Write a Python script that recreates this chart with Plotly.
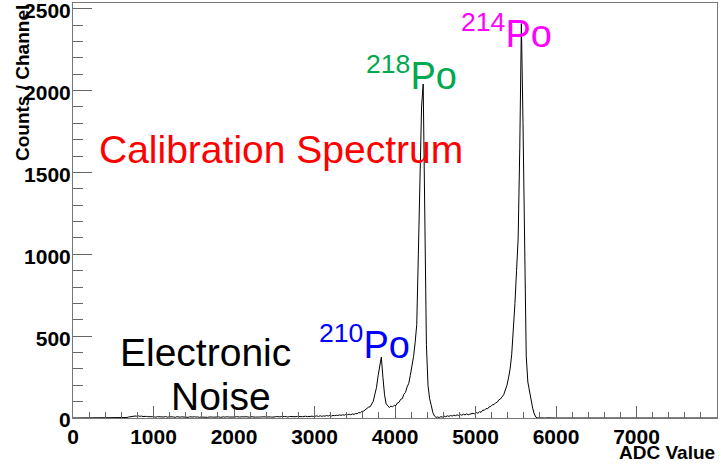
import plotly.graph_objects as go

# Histogram binning of the ADC spectrum (20 ADC channels per bin, starting at 600)
BIN_START = 600
BIN_WIDTH = 20
X_MAX = 8000
Y_MAX = 2535

# Counts per bin, rows of 10 bins (200 ADC each), starting at 600
counts = [
    0, 0, 1, 3, 6, 8, 10, 9, 12, 11,                 # 600
    13, 10, 12, 9, 11, 10, 8, 9, 7, 8,               # 800
    7, 5, 8, 7, 4, 7, 6, 9, 5, 7,                    # 1000
    5, 7, 6, 4, 8, 6, 5, 7, 6, 8,                    # 1200
    6, 4, 7, 5, 6, 8, 5, 7, 4, 6,                    # 1400
    5, 7, 6, 4, 6, 8, 6, 5, 7, 5,                    # 1600
    7, 4, 6, 7, 5, 8, 6, 5, 4, 6,                    # 1800
    6, 8, 5, 6, 7, 5, 7, 8, 6, 5,                    # 2000
    8, 6, 7, 5, 6, 8, 6, 7, 5, 7,                    # 2200
    6, 8, 7, 5, 8, 7, 9, 6, 7, 9,                    # 2400
    7, 9, 8, 6, 9, 8, 10, 7, 8, 10,                  # 2600
    8, 10, 8, 9, 11, 8, 10, 9, 11, 9,                # 2800
    10, 13, 9, 14, 10, 13, 11, 15, 12, 16,           # 3000
    12, 16, 14, 17, 15, 19, 16, 20, 17, 22,          # 3200
    20, 23, 20, 25, 22, 27, 26, 33, 32, 41,          # 3400
    42, 50, 53, 66, 68, 88, 102, 145, 186, 258,      # 3600
    318, 372, 248, 142, 86, 75, 64, 73, 68, 78,      # 3800
    76, 92, 95, 114, 118, 145, 156, 190, 210, 260,   # 4000
    310, 375, 460, 570, 1000, 1550, 1900, 2040, 1250, 450,  # 4200
    200, 118, 78, 33, 12, 4, 6, 3, 8, 6,             # 4400
    11, 8, 13, 10, 15, 12, 17, 14, 19, 16,           # 4600
    21, 17, 23, 19, 25, 20, 23, 24, 29, 25,          # 4800
    33, 29, 38, 35, 48, 47, 58, 56, 68, 70,          # 5000
    81, 82, 93, 96, 111, 116, 133, 142, 171, 198,    # 5200
    245, 300, 390, 520, 700, 900, 1100, 1650, 2409, 1800,  # 5400
    900, 380, 220, 160, 105, 60, 25, 5, 1, 0,        # 5600
    0, 1, 0, 0, 1, 0, 0, 0, 0, 0,                    # 5800
]

adc = [BIN_START + BIN_WIDTH * (i + 0.5) for i in range(len(counts))]
# empty channels on both sides of the filled range
adc = [0] + adc + [X_MAX]
counts = [0] + counts + [0]

x_ticks = [0, 1000, 2000, 3000, 4000, 5000, 6000, 7000]
y_ticks = [0, 500, 1000, 1500, 2000, 2500]

FONT = "Liberation Sans"

# plot-area geometry (pixels)
W, H = 721, 465
L, R, T, B = 73, 4, 3, 47
PW, PH = W - L - R, H - T - B


def px_x(px):
    return (px - L) / PW


def px_y(py):
    return (H - B - py) / PH


fig = go.Figure()
fig.add_trace(go.Scatter(
    x=adc, y=counts, mode="lines",
    line=dict(color="black", width=1),
    hoverinfo="x+y", showlegend=False,
))

axis_common = dict(
    showline=True, linecolor="#777777", linewidth=1, mirror=True,
    showgrid=False, zeroline=False, automargin=False,
    ticks="inside", tickcolor="#666666", tickwidth=1,
    tickfont=dict(family=FONT, size=21, color="black", weight="bold"),
    ticklabeloverflow="allow",
)

fig.update_xaxes(
    range=[0, X_MAX], tickvals=x_ticks, ticktext=[str(v) for v in x_ticks],
    ticklen=12,
    minor=dict(dtick=200, ticklen=6, ticks="inside", tickcolor="#666666"),
    **axis_common,
)
fig.update_yaxes(
    range=[0, Y_MAX], tickvals=y_ticks, ticktext=[str(v) for v in y_ticks],
    ticklen=19, ticklabelstandoff=-3, ticklabelshift=2,
    minor=dict(dtick=100, ticklen=10, ticks="inside", tickcolor="#666666"),
    **axis_common,
)

annotations = [
    # axis titles
    dict(text="<b>Counts / Channel</b>", x=px_x(22), y=1.0, xanchor="center",
         yanchor="top", textangle=-90, font=dict(size=19)),
    dict(text="<b>ADC Value</b>", x=1.0, y=px_y(465), xanchor="right",
         yanchor="bottom", font=dict(size=19)),
    # labels
    dict(text="Calibration Spectrum", x=px_x(281), y=px_y(149),
         xanchor="center", yanchor="middle", font=dict(size=39, color="#ff0000")),
    dict(text="<sup>214</sup>Po", x=px_x(506), y=px_y(31),
         xanchor="center", yanchor="middle", font=dict(size=38, color="#ff00ff")),
    dict(text="<sup>218</sup>Po", x=px_x(411), y=px_y(73),
         xanchor="center", yanchor="middle", font=dict(size=38, color="#00a84f")),
    dict(text="<sup>210</sup>Po", x=px_x(364), y=px_y(342),
         xanchor="center", yanchor="middle", font=dict(size=38, color="#0000ff")),
    dict(text="Electronic", x=px_x(205), y=px_y(352),
         xanchor="center", yanchor="middle", font=dict(size=39, color="black")),
    dict(text="Noise", x=px_x(221), y=px_y(396),
         xanchor="center", yanchor="middle", font=dict(size=39, color="black")),
]
for a in annotations:
    a.setdefault("xref", "paper")
    a.setdefault("yref", "paper")
    a["showarrow"] = False
    a["font"].setdefault("color", "black")
    a["font"]["family"] = FONT

fig.update_layout(
    width=W, height=H,
    margin=dict(l=L, r=R, t=T, b=B, autoexpand=False),
    paper_bgcolor="white", plot_bgcolor="white",
    annotations=annotations,
    font=dict(family=FONT),
)

fig.write_html("out.html")
